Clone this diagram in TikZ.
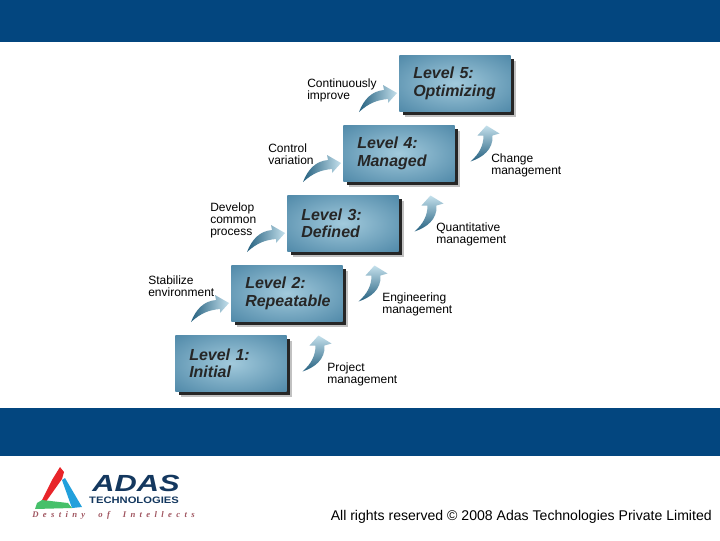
\documentclass[tikz,border=0pt]{standalone}
\usepackage{fontspec}
\setmainfont{Liberation Sans}
\newfontfamily\logoserif{Liberation Serif}
\usetikzlibrary{shadows}
\definecolor{bandblue}{HTML}{03467F}
\definecolor{boxdark}{HTML}{14537A}
\definecolor{boxmid}{HTML}{2F6F94}
\definecolor{boxlight}{HTML}{A2CADC}
\definecolor{swoopdark}{HTML}{24607F}
\definecolor{swoopmid}{HTML}{6FA9C6}
\definecolor{swooplight}{HTML}{C4E0EC}
\definecolor{logonavy}{HTML}{14385F}
\definecolor{logored}{HTML}{E8252A}
\definecolor{logoblue}{HTML}{22A0DC}
\definecolor{logogreen}{HTML}{46C06A}
\definecolor{logotag}{HTML}{A05560}
\pgfdeclareradialshading{levelglow}{\pgfpoint{0bp}{0bp}}{color(0bp)=(boxlight); color(50bp)=(boxmid); color(72bp)=(boxdark); color(100bp)=(boxdark)}
\tikzset{
    levelbox/.style={anchor=north west, minimum width=83.5pt, minimum height=42pt, inner sep=0pt,
        text width=62.5pt, align=left, shading=levelglow,
        font=\fontsize{12}{13}\selectfont\bfseries\itshape, text=black!85,
        general shadow={shadow xshift=4pt, shadow yshift=-4.2pt, fill=black!40, opacity=0.6},
        general shadow={shadow xshift=2.6pt, shadow yshift=-2.8pt, fill=black!85}},
    steplabel/.style={anchor=west, align=left, inner sep=0pt,
        font=\fontsize{9}{9}\selectfont, text=black},
    pics/swoopin/.style={code={
        \shade[left color=swoopdark, middle color=swoopmid, right color=swooplight]
            (0,0) -- (-14,-8) -- (-13,-3) .. controls (-25,-2) and (-33,6) .. (-38,19)
            .. controls (-28,10) and (-20,7) .. (-9,6) -- (-9,10) -- cycle;
    }},
    pics/swoopup/.style={code={
        \shade[bottom color=swoopdark, middle color=swoopmid, top color=swooplight]
            (0,0) -- (-9,10) -- (-3,10) .. controls (-3,20) and (-7,28) .. (-16,36)
            .. controls (-4,32) and (7,24) .. (6,10) -- (13,8) -- cycle;
    }}
}
\begin{document}
\begin{tikzpicture}[x=0.75pt, y=-0.75pt]
    \useasboundingbox (0,0) rectangle (720,540);
    \fill[white] (0,0) rectangle (720,540);
    % Bands
    \fill[bandblue] (0,0) rectangle (720,42);
    \fill[bandblue] (0,408) rectangle (720,456);
    % Level boxes with their arrows
    \foreach \lev/\bx/\by/\first/\second in {1/175/335/Level 1:/Initial, 2/231/265/Level 2:/Repeatable,
            3/287/195/Level 3:/Defined, 4/343/125/Level 4:/Managed, 5/399/55/Level 5:/Optimizing}
        \node[levelbox] (L\lev) at (\bx,\by) {\first\\\second};
    \foreach \lev/\bx/\by in {2/231/265, 3/287/195, 4/343/125, 5/399/55}
        \pic (in\lev) at (\bx-2,\by+38) {swoopin};
    \foreach \lev/\bx/\by in {1/175/335, 2/231/265, 3/287/195, 4/343/125}
        \pic (up\lev) at (\bx+143.5,\by+0.5) {swoopup};
    % Labels
    \node[steplabel] (improve) at (307,90.5) {Continuously\\improve};
    \node[steplabel] (control) at (268,154.5) {Control\\variation};
    \node[steplabel] (develop) at (210,220) {Develop\\common\\process};
    \node[steplabel] (stabilize) at (148,286) {Stabilize\\environment};
    \node[steplabel] (change) at (491,165) {Change\\management};
    \node[steplabel] (quant) at (436,234.5) {Quantitative\\management};
    \node[steplabel] (engin) at (382,304.5) {Engineering\\management};
    \node[steplabel] (project) at (327,374) {Project\\management};
    % Footer
    \fill[logored] (60,467) -- (64,472) -- (62,479) -- (45,503) -- (42,500) -- (52,480) -- cycle;
    \fill[logoblue] (62,480) -- (65,478) -- (82,507) -- (72,508) -- cycle;
    \fill[logogreen] (42,500) -- (68,503) -- (72,508) -- (35,509) -- (37,503) -- cycle;
    \node[inner sep=0pt, text=logonavy, xscale=1.32, font=\fontsize{17.5}{17.5}\selectfont\bfseries\itshape] (adas) at (136,483.5) {ADAS};
    \node[inner sep=0pt, text=logonavy, xscale=1.2, font=\fontsize{7}{7}\selectfont\bfseries] (tech) at (134,500) {TECHNOLOGIES};
    \node[inner sep=0pt, text=logotag, font=\fontsize{6.5}{7}\logoserif\addfontfeature{LetterSpace=50}\bfseries\itshape] (tag) at (113.5,515.5)
        {Destiny\ \ of\ \ Intellects};
    \node[anchor=east, inner sep=0pt, font=\fontsize{10.55}{11}\selectfont] (rights) at (712,516.5)
        {All rights reserved © 2008 Adas Technologies Private Limited};
\end{tikzpicture}
\end{document}
